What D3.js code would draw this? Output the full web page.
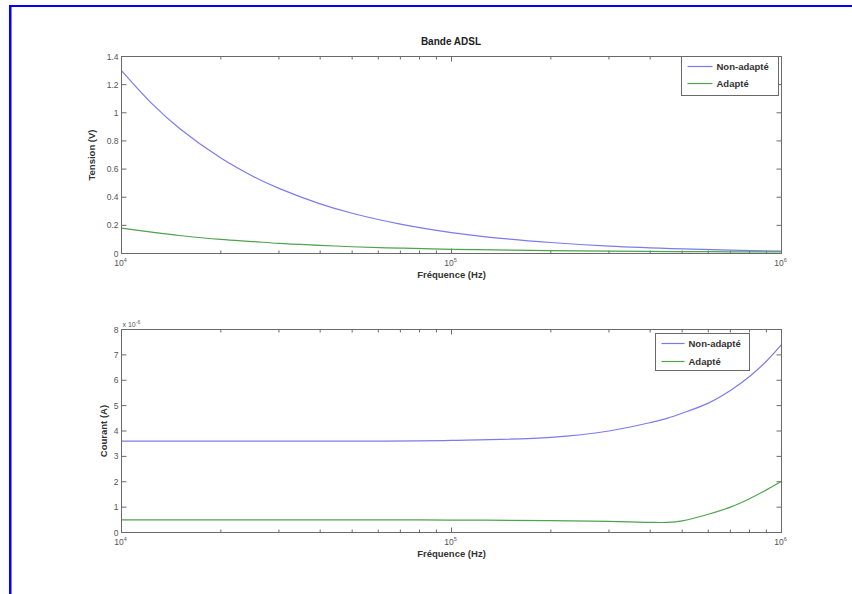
<!DOCTYPE html>
<html><head><meta charset="utf-8">
<script src="https://cdn.jsdelivr.net/npm/d3@7"></script>
<style>
html,body{margin:0;padding:0;background:#fff;}
svg{display:block;}
</style></head>
<body>
<svg id="chart" width="852" height="594"></svg>
<script>
// ---- data ----
const freqTop = [1e4, 1.25e4, 1.5e4, 2e4, 2.5e4, 3e4, 4e4, 5e4, 7e4, 1e5, 1.5e5, 2e5, 3e5, 5e5, 7e5, 1e6];
const tensionNonAdapte = [1.30, 1.054, 0.888, 0.678, 0.549, 0.463, 0.353, 0.286, 0.209, 0.149, 0.102, 0.078, 0.053, 0.033, 0.024, 0.017];
const tensionAdapte    = [0.18, 0.150, 0.128, 0.100, 0.085, 0.072, 0.058, 0.048, 0.038, 0.030, 0.024, 0.020, 0.017, 0.014, 0.012, 0.011];

const freqBottom = [1e4, 2e4, 5e4, 1e5, 2e5, 3e5, 4e5, 4.5e5, 5e5, 6e5, 7e5, 8e5, 9e5, 1e6];
const courantNonAdapte = [3.60, 3.60, 3.60, 3.63, 3.75, 4.0, 4.33, 4.5, 4.7, 5.1, 5.6, 6.15, 6.75, 7.4];
const courantAdapte    = [0.50, 0.50, 0.50, 0.49, 0.47, 0.44, 0.40, 0.40, 0.46, 0.72, 1.0, 1.33, 1.68, 2.02];

const seriesNames = ["Non-adapté", "Adapté"];
const seriesColors = ["#7b7bee", "#4fa24f"];
const tensionTicks = [0, 0.2, 0.4, 0.6, 0.8, 1, 1.2, 1.4];
const courantTicks = [0, 1, 2, 3, 4, 5, 6, 7, 8];
const decadeTicks = [1e4, 1e5, 1e6];
const decadeExp = ["4", "5", "6"];

// ---- drawing ----
const svg = d3.select("#chart");
svg.append("rect").attr("x",0).attr("y",0).attr("width",852).attr("height",594).attr("fill","#fff");
// blue frame
svg.append("rect").attr("x",9).attr("y",5).attr("width",843).attr("height",2).attr("fill","#0000ff");
svg.append("rect").attr("x",9).attr("y",5).attr("width",2.5).attr("height",589).attr("fill","#0000ff");

const FONT = "Liberation Sans, Arial, sans-serif";
const axisColor = "#6a6a6a";
const textColor = "#333";

function minorTicks(domain){
  const out=[];
  for(let e=Math.log10(domain[0]); e<Math.log10(domain[1]); e++){
    for(let m=1;m<10;m++){ out.push(m*Math.pow(10,e)); }
  }
  out.push(domain[1]);
  return out;
}

function panel(opts){
  const {x0,x1,y0,y1,yDomain,yTicks,freq,series,legend,ylabel,exponent} = opts;
  const x = d3.scaleLog().domain([1e4,1e6]).range([x0,x1]);
  const y = d3.scaleLinear().domain(yDomain).range([y1,y0]);
  const g = svg.append("g");
  const ticks = minorTicks([1e4,1e6]);
  const tickLen = 5;
  g.selectAll(".xtb").data(ticks).enter().append("line")
    .attr("x1",d=>x(d)).attr("x2",d=>x(d)).attr("y1",y1).attr("y2",d=>y1-(decadeTicks.includes(d)?tickLen:3))
    .attr("stroke",axisColor).attr("stroke-width",1);
  g.selectAll(".xtt").data(ticks).enter().append("line")
    .attr("x1",d=>x(d)).attr("x2",d=>x(d)).attr("y1",y0).attr("y2",d=>y0+(decadeTicks.includes(d)?tickLen:3))
    .attr("stroke",axisColor).attr("stroke-width",1);
  g.selectAll(".ytl").data(yTicks).enter().append("line")
    .attr("x1",x0).attr("x2",x0+tickLen).attr("y1",d=>y(d)).attr("y2",d=>y(d))
    .attr("stroke",axisColor);
  g.selectAll(".ytr").data(yTicks).enter().append("line")
    .attr("x1",x1).attr("x2",x1-tickLen).attr("y1",d=>y(d)).attr("y2",d=>y(d))
    .attr("stroke",axisColor);
  g.selectAll(".ytlab").data(yTicks).enter().append("text")
    .attr("x",x0-3).attr("y",d=>y(d)+3).attr("text-anchor","end")
    .attr("font-family",FONT).attr("font-size",8.5).attr("fill","#555")
    .text(d=>d3.format("~g")(d));
  decadeTicks.forEach((d,i)=>{
    const t = g.append("text").attr("x",x(d)-1).attr("y",y1+12).attr("text-anchor","middle")
      .attr("font-family",FONT).attr("font-size",8.5).attr("fill","#555");
    t.append("tspan").text("10");
    t.append("tspan").attr("dy",-4).attr("font-size",5.5).text(decadeExp[i]);
  });
  const line = d3.line().x(d=>x(d[0])).y(d=>y(d[1])).curve(d3.curveCatmullRom.alpha(0.5));
  series.forEach((s,i)=>{
    g.append("path").datum(freq.map((f,j)=>[f,s[j]]))
      .attr("d",line).attr("fill","none").attr("stroke",seriesColors[i]).attr("stroke-width",1.2);
  });
  g.append("rect").attr("x",x0).attr("y",y0).attr("width",x1-x0).attr("height",y1-y0)
    .attr("fill","none").attr("stroke",axisColor).attr("stroke-width",1);
  g.append("text").attr("x",(x0+x1)/2).attr("y",y1+24).attr("text-anchor","middle")
    .attr("font-family",FONT).attr("font-size",9.5).attr("font-weight","bold").attr("fill",textColor)
    .text("Fréquence (Hz)");
  g.append("text").attr("transform",`translate(${opts.ylabelX},${(y0+y1)/2}) rotate(-90)`)
    .attr("text-anchor","middle").attr("font-family",FONT).attr("font-size",9.5).attr("font-weight","bold")
    .attr("fill",textColor).text(ylabel);
  if(exponent){
    const t = g.append("text").attr("x",x0+1).attr("y",y0-3).attr("font-family",FONT)
      .attr("font-size",7).attr("fill","#555");
    t.append("tspan").text("x 10");
    t.append("tspan").attr("dy",-3).attr("font-size",5).text(exponent);
  }
  const L = legend;
  g.append("rect").attr("x",L.x).attr("y",L.y).attr("width",L.w).attr("height",L.h)
    .attr("fill","#fff").attr("stroke",axisColor).attr("stroke-width",1);
  seriesNames.forEach((n,i)=>{
    const yy = L.y + 10 + i*L.gap;
    g.append("line").attr("x1",L.x+6).attr("x2",L.x+6+L.len).attr("y1",yy).attr("y2",yy)
      .attr("stroke",seriesColors[i]).attr("stroke-width",1.2);
    g.append("text").attr("x",L.x+10+L.len).attr("y",yy+3.5).attr("font-family",FONT)
      .attr("font-size",9.5).attr("font-weight","bold").attr("fill",textColor).text(n);
  });
}

svg.append("text").attr("x",451).attr("y",45).attr("text-anchor","middle")
  .attr("font-family",FONT).attr("font-size",10).attr("font-weight","bold").attr("fill","#222")
  .text("Bande ADSL");

panel({x0:121.5,x1:781.5,y0:56.5,y1:253.5,yDomain:[0,1.4],yTicks:tensionTicks,freq:freqTop,
  series:[tensionNonAdapte,tensionAdapte],ylabel:"Tension (V)",ylabelX:95,
  legend:{x:681.5,y:56.5,w:97,h:39,len:25,gap:17}});
panel({x0:121.5,x1:781.5,y0:329.5,y1:532.5,yDomain:[0,8],yTicks:courantTicks,freq:freqBottom,
  series:[courantNonAdapte,courantAdapte],ylabel:"Courant (A)",ylabelX:107,exponent:"-6",
  legend:{x:655.5,y:333.5,w:94,h:37,len:23,gap:18}});
</script>
</body></html>
